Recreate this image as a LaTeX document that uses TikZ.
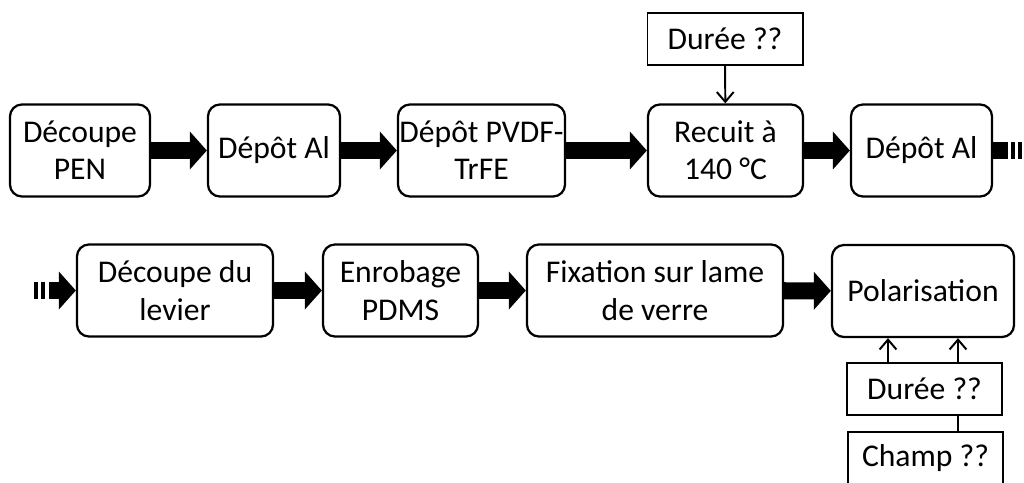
\documentclass[tikz,border=0pt]{standalone}
\usepackage{fontspec}
\setmainfont{Carlito}
\usetikzlibrary{arrows.meta, backgrounds}

\begin{document}
\begin{tikzpicture}[x=0.025cm, y=-0.025cm,
    etape/.style={draw, line width=1.6pt, rounded corners=0.3cm, align=center,
      minimum height=2.3cm, inner sep=0pt, fill=white},
    para/.style={draw, line width=1.4pt, align=center, minimum height=1.3cm,
      minimum width=3.875cm, inner sep=0pt, fill=white},
    fleche/.style={line width=0.425cm, -{Triangle[width=0.925cm, length=0.425cm]}},
    fin/.style={line width=1.4pt, -{Straight Barb[length=7pt, width=12pt]}},
    font=\fontsize{22.5}{26.5}\selectfont]
  % Rahmen
  \useasboundingbox (0,0) rectangle (1024,482);
  % Zeile 1
  \node[etape, minimum width=3.5cm] (pen) at (80,150.5) {Découpe\\PEN};
  \node[etape, minimum width=3.3cm] (al1) at (274,150.5) {Dépôt Al};
  \node[etape, minimum width=4.175cm] (pvdf) at (481.5,150.5) {Dépôt PVDF-\\TrFE};
  \node[etape, minimum width=3.875cm] (recuit) at (725.5,150.5) {Recuit à\\140 °C};
  \node[etape, minimum width=3.525cm] (al2) at (921.5,150.5) {Dépôt Al};
  \node[para] (duree1) at (725,39) {Durée ??};
  % Zeile 2
  \node[etape, minimum width=4.9cm] (levier) at (175,290.5) {Découpe du\\levier};
  \node[etape, minimum width=3.875cm] (pdms) at (400.5,290.5) {Enrobage\\PDMS};
  \node[etape, minimum width=6.4cm] (fix) at (655,290.5) {Fixation sur lame\\de verre};
  \node[etape, minimum width=4.55cm] (polar) at (923,291) {Polarisation};
  \node[para] (duree2) at (924.5,389) {Durée ??};
  \node[para] (champ) at (925.5,458) {Champ ??};
  % Pfeile
  \foreach \a/\b in {pen/al1, al1/pvdf, pvdf/recuit, recuit/al2,
                     levier/pdms, pdms/fix, fix/polar}
    \draw[fleche] (\a) -- (\b);
  \coordinate (bord) at (1024,150.5);
  \coordinate (debut) at (34,290.5);
  \draw[line width=0.425cm, dash pattern=on 10.5pt off 2.5pt on 2.5pt off 2.5pt on 2.5pt off 2.5pt on 2.5pt]
    (al2.east) -- (bord);
  \draw[fleche, dash pattern=on 2.5pt off 2.5pt on 2.5pt off 3pt on 40pt] (debut) -- (levier.west);
  \draw[fin] (duree1) -- (recuit);
  \coordinate (xg) at (888,0);
  \coordinate (xd) at (958,0);
  \draw[fin] (duree2.north -| xg) -- (polar.south -| xg);
  \begin{scope}[on background layer]
    \draw[fin] (champ.north -| xd) -- (polar.south -| xd);
  \end{scope}
\end{tikzpicture}
\end{document}
